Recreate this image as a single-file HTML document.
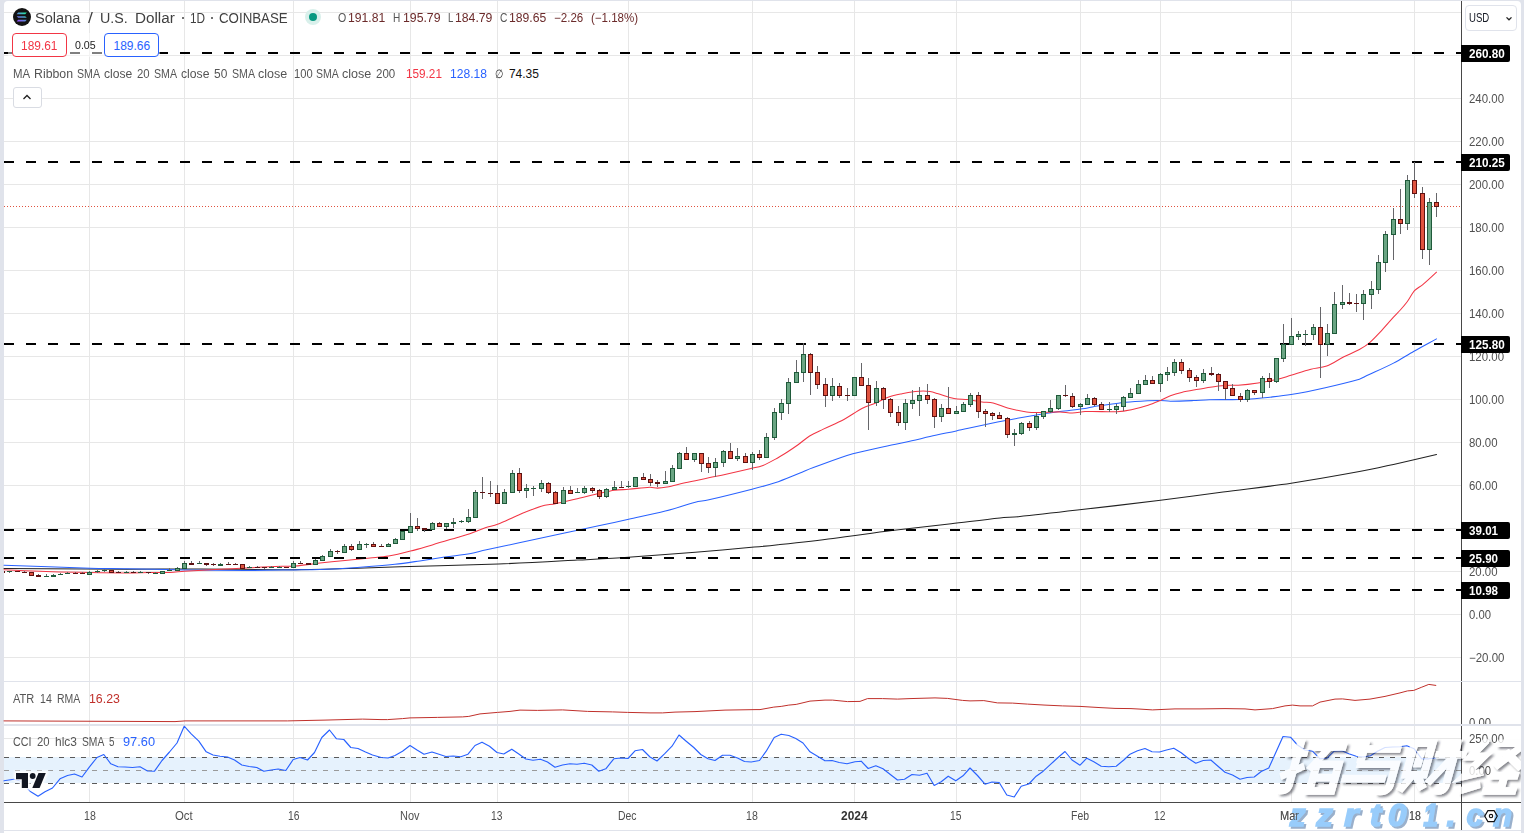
<!DOCTYPE html>
<html><head><meta charset="utf-8"><title>SOLUSD</title>
<style>
html,body{margin:0;padding:0;}
body{width:1524px;height:833px;overflow:hidden;background:#e0e3eb;font-family:"Liberation Sans",sans-serif;position:relative;}
#panel{position:absolute;left:4px;top:1px;width:1517px;height:829px;background:#fff;border-radius:4px 4px 0 0;}
#below{position:absolute;left:4px;top:831px;width:1517px;height:2px;background:#fff;}
svg{position:absolute;left:0;top:0;}
.t{position:absolute;white-space:nowrap;line-height:1;}
.ax{font-size:12px;color:#4f4f4f;left:1469px;letter-spacing:-0.15px;}
.tx{font-size:12px;color:#4f4f4f;transform:translateX(-50%);top:810px;}
.lab{position:absolute;left:1461px;width:49px;height:17px;background:#000;border-radius:0 2px 2px 0;}
.leg{font-size:12px;color:#505050;}
</style></head><body>
<div id="panel"></div><div id="below"></div>

<svg width="1524" height="833" viewBox="0 0 1524 833">
<g shape-rendering="crispEdges" fill="#e7e7e7">
<rect x="89" y="1" width="1" height="801"/>
<rect x="184" y="1" width="1" height="801"/>
<rect x="293" y="1" width="1" height="801"/>
<rect x="410" y="1" width="1" height="801"/>
<rect x="497" y="1" width="1" height="801"/>
<rect x="628" y="1" width="1" height="801"/>
<rect x="752" y="1" width="1" height="801"/>
<rect x="854" y="1" width="1" height="801"/>
<rect x="956" y="1" width="1" height="801"/>
<rect x="1080" y="1" width="1" height="801"/>
<rect x="1160" y="1" width="1" height="801"/>
<rect x="1291" y="1" width="1" height="801"/>
<rect x="1414" y="1" width="1" height="801"/>
<rect x="4" y="12" width="1457" height="1"/>
<rect x="4" y="55" width="1457" height="1"/>
<rect x="4" y="98" width="1457" height="1"/>
<rect x="4" y="141" width="1457" height="1"/>
<rect x="4" y="184" width="1457" height="1"/>
<rect x="4" y="227" width="1457" height="1"/>
<rect x="4" y="270" width="1457" height="1"/>
<rect x="4" y="313" width="1457" height="1"/>
<rect x="4" y="356" width="1457" height="1"/>
<rect x="4" y="399" width="1457" height="1"/>
<rect x="4" y="442" width="1457" height="1"/>
<rect x="4" y="485" width="1457" height="1"/>
<rect x="4" y="528" width="1457" height="1"/>
<rect x="4" y="571" width="1457" height="1"/>
<rect x="4" y="614" width="1457" height="1"/>
<rect x="4" y="657" width="1457" height="1"/>
<rect x="4" y="738" width="1457" height="1"/>
</g>
<rect x="4" y="757" width="1457" height="26" fill="#e6f2fd"/>
<g shape-rendering="crispEdges" stroke-width="1" stroke-dasharray="5 6" fill="none">
<path d="M4 757.5H1461" stroke="#5a5a5a"/>
<path d="M4 770.5H1461" stroke="#9a9a9a"/>
<path d="M4 783.5H1461" stroke="#5a5a5a"/>
</g>
<g shape-rendering="crispEdges" fill="#e0e3eb"><rect x="4" y="681" width="1517" height="1"/><rect x="4" y="724" width="1517" height="2"/><rect x="4" y="830" width="1517" height="1"/></g>
<path d="M4.0 568.6 C45.0 568.8 86.0 569.1 127.0 569.2 C151.3 569.2 175.7 568.9 200.0 569.0 C231.7 569.1 263.3 569.8 295.0 569.7 C315.8 569.6 336.6 568.9 357.4 568.3 C371.6 567.9 385.8 567.2 400.0 566.8 C432.8 565.8 465.6 565.2 498.4 564.0 C524.7 563.0 550.9 561.5 577.2 560.1 C594.2 559.2 611.3 558.4 628.3 557.3 C650.6 555.8 673.0 554.0 695.3 552.2 C715.0 550.6 734.6 548.9 754.3 547.1 C762.2 546.4 770.1 545.6 778.0 544.7 C796.3 542.7 814.7 540.7 833.0 538.4 C852.7 536.0 872.4 533.0 892.1 530.6 C911.8 528.2 931.5 526.0 951.2 523.7 C967.5 521.8 983.7 519.6 1000.0 517.9 C1006.1 517.3 1012.1 517.3 1018.2 516.7 C1038.7 514.6 1059.1 512.2 1079.6 509.8 C1106.6 506.7 1133.5 503.6 1160.5 500.3 C1181.3 497.7 1202.2 494.8 1223.0 492.1 C1245.7 489.1 1268.5 486.6 1291.2 483.2 C1313.9 479.8 1336.7 475.8 1359.4 471.6 C1370.8 469.5 1382.1 466.9 1393.5 464.4 C1407.8 461.2 1422.2 457.9 1436.5 454.6" fill="none" stroke="#222" stroke-width="1.05" stroke-linejoin="round" stroke-linecap="round"/>
<path d="M4.0 565.2 C32.7 566.2 61.3 567.4 90.0 568.2 C102.3 568.6 114.7 568.5 127.0 568.8 C146.2 569.1 165.3 569.6 184.5 569.9 C204.6 570.2 224.6 570.4 244.7 570.4 C261.5 570.4 278.2 570.1 295.0 569.9 C303.3 569.8 311.7 569.8 320.0 569.5 C332.5 569.0 344.9 568.3 357.4 567.4 C369.9 566.5 382.4 565.6 394.9 564.3 C403.2 563.4 411.5 562.1 419.8 560.9 C428.1 559.7 436.5 558.3 444.8 557.1 C453.5 555.8 462.2 554.9 470.9 553.4 C475.7 552.6 480.5 551.1 485.3 550.1 C496.2 547.7 507.2 545.5 518.1 543.1 C532.0 540.1 546.0 537.0 559.9 534.0 C567.0 532.5 574.0 531.0 581.1 529.5 C587.3 528.2 593.6 526.8 599.8 525.5 C609.4 523.4 619.0 521.4 628.6 519.3 C640.8 516.6 653.1 514.2 665.3 511.1 C675.3 508.5 685.3 504.8 695.3 502.2 C699.5 501.1 703.6 501.0 707.8 500.0 C722.2 496.7 736.6 493.1 751.0 489.4 C759.0 487.4 767.0 485.5 775.0 482.8 C783.3 480.0 791.7 476.3 800.0 473.0 C804.5 471.2 808.9 469.2 813.4 467.6 C826.5 462.8 839.7 457.6 852.8 453.8 C865.7 450.1 878.6 447.8 891.5 445.0 C898.3 443.5 905.0 442.3 911.8 440.8 C917.9 439.5 923.9 437.8 930.0 436.5 C938.8 434.5 947.5 432.8 956.3 430.9 C972.3 427.5 988.3 424.0 1004.3 420.8 C1015.5 418.6 1026.6 416.5 1037.8 414.7 C1045.2 413.5 1052.6 412.6 1060.0 411.6 C1068.3 410.5 1076.7 409.7 1085.0 408.5 C1087.4 408.1 1089.9 407.3 1092.3 406.9 C1099.7 405.7 1107.2 404.8 1114.6 403.8 C1118.3 403.3 1122.1 402.6 1125.8 402.3 C1133.2 401.6 1140.7 401.2 1148.1 400.8 C1152.2 400.6 1156.3 400.4 1160.4 400.5 C1163.7 400.6 1167.1 401.2 1170.4 401.2 C1177.9 401.2 1185.3 400.9 1192.8 400.6 C1198.4 400.4 1203.9 399.8 1209.5 399.7 C1219.7 399.5 1229.8 399.7 1240.0 399.6 C1242.5 399.6 1245.0 399.5 1247.5 399.3 C1253.2 398.9 1258.9 398.3 1264.6 397.7 C1273.4 396.7 1282.2 396.0 1291.0 394.6 C1302.4 392.7 1313.9 390.3 1325.3 387.7 C1336.7 385.1 1348.0 382.4 1359.4 379.2 C1361.3 378.7 1363.1 377.4 1365.0 376.5 C1374.5 372.0 1384.0 368.0 1393.5 363.1 C1400.3 359.6 1407.2 355.0 1414.0 351.2 C1421.5 347.0 1429.0 343.0 1436.5 338.9" fill="none" stroke="#2962ff" stroke-width="1.05" stroke-linejoin="round" stroke-linecap="round"/>
<path d="M4.0 569.8 C18.0 570.4 32.0 571.1 46.0 571.5 C60.7 572.0 75.3 572.2 90.0 572.5 C102.3 572.7 114.7 572.9 127.0 572.9 C134.7 572.9 142.3 572.6 150.0 572.5 C156.7 572.4 163.3 572.7 170.0 572.4 C174.8 572.2 179.7 571.5 184.5 571.2 C196.3 570.5 208.0 569.9 219.8 569.3 C228.1 568.9 236.4 568.4 244.7 568.0 C257.1 567.4 269.6 566.7 282.0 566.2 C286.3 566.0 290.7 566.5 295.0 566.1 C303.3 565.4 311.7 563.9 320.0 563.0 C328.3 562.1 336.7 561.3 345.0 560.5 C353.3 559.7 361.7 558.8 370.0 558.0 C376.2 557.4 382.4 557.2 388.6 556.1 C395.9 554.9 403.2 553.0 410.5 551.1 C417.8 549.2 425.0 547.0 432.3 544.9 C440.6 542.5 449.0 539.9 457.3 537.4 C461.5 536.2 465.6 535.1 469.8 533.7 C475.0 531.9 480.1 529.5 485.3 527.7 C489.4 526.3 493.4 525.9 497.5 524.3 C504.6 521.6 511.6 517.8 518.7 514.9 C526.2 511.8 533.7 508.5 541.2 506.2 C546.0 504.7 550.7 504.7 555.5 503.7 C562.0 502.4 568.4 500.8 574.9 499.3 C583.2 497.4 591.5 495.2 599.8 493.3 C604.7 492.2 609.6 491.0 614.5 490.3 C619.2 489.6 623.9 489.7 628.6 489.3 C635.7 488.7 642.7 487.5 649.8 487.2 C652.4 487.1 654.9 488.1 657.5 488.1 C660.7 488.1 663.8 487.6 667.0 487.0 C673.0 485.8 679.0 484.1 685.0 482.8 C695.0 480.6 705.0 478.8 715.0 476.6 C727.0 474.0 739.0 471.2 751.0 468.4 C755.0 467.5 759.0 466.9 763.0 465.4 C767.0 463.9 771.0 461.6 775.0 459.4 C779.0 457.2 783.0 454.7 787.0 452.2 C790.6 449.9 794.1 447.6 797.7 445.0 C801.7 442.2 805.6 438.5 809.6 436.0 C814.0 433.3 818.4 431.5 822.8 429.4 C829.8 426.0 836.9 423.2 843.9 419.5 C850.1 416.2 856.2 411.5 862.4 408.3 C866.8 406.0 871.2 404.9 875.6 403.0 C880.0 401.1 884.4 398.6 888.8 397.0 C893.2 395.4 897.6 394.6 902.0 393.7 C906.4 392.8 910.8 392.1 915.2 391.5 C917.8 391.2 920.5 391.0 923.1 391.0 C925.4 391.0 927.7 391.2 930.0 391.6 C932.4 392.0 934.9 392.8 937.3 393.5 C942.9 395.1 948.4 397.4 954.0 398.5 C958.5 399.4 963.0 399.1 967.5 399.6 C972.3 400.2 977.2 401.3 982.0 401.9 C985.7 402.4 989.4 402.1 993.1 403.0 C997.9 404.2 1002.8 406.7 1007.6 408.0 C1013.9 409.7 1020.3 411.0 1026.6 411.9 C1030.3 412.5 1034.1 412.5 1037.8 412.5 C1045.2 412.5 1052.6 411.8 1060.0 411.9 C1064.1 412.0 1068.3 413.0 1072.4 413.0 C1076.6 412.9 1080.8 411.9 1085.0 411.6 C1087.4 411.4 1089.9 411.4 1092.3 411.4 C1100.5 411.4 1108.7 412.1 1116.9 411.7 C1121.7 411.5 1126.6 410.7 1131.4 409.7 C1137.0 408.6 1142.5 407.1 1148.1 405.3 C1152.2 404.0 1156.3 402.2 1160.4 400.5 C1163.7 399.1 1167.1 397.1 1170.4 395.8 C1174.1 394.4 1177.9 393.3 1181.6 392.4 C1187.2 391.1 1192.7 390.3 1198.3 389.3 C1205.0 388.2 1211.7 387.0 1218.4 386.1 C1221.0 385.7 1223.7 385.5 1226.3 385.4 C1230.3 385.2 1234.2 385.5 1238.2 385.2 C1244.8 384.7 1251.4 383.9 1258.0 382.9 C1264.6 381.9 1271.2 380.7 1277.8 379.2 C1282.2 378.2 1286.6 376.6 1291.0 375.3 C1297.6 373.3 1304.3 371.0 1310.9 369.3 C1316.2 367.9 1321.4 368.0 1326.7 366.0 C1332.4 363.8 1338.2 359.7 1343.9 356.8 C1349.1 354.2 1354.2 352.3 1359.4 349.5 C1362.8 347.6 1366.3 345.5 1369.7 342.6 C1373.1 339.8 1376.5 336.0 1379.9 332.4 C1384.4 327.5 1389.0 322.1 1393.5 317.1 C1395.8 314.6 1398.0 312.5 1400.3 310.0 C1402.6 307.4 1404.9 304.8 1407.2 301.7 C1409.6 298.4 1412.1 293.4 1414.5 290.7 C1417.2 287.8 1419.8 287.0 1422.5 284.8 C1427.2 280.9 1431.8 276.4 1436.5 272.2" fill="none" stroke="#f23645" stroke-width="1.05" stroke-linejoin="round" stroke-linecap="round"/>
<g stroke="#000" stroke-width="2" stroke-dasharray="10 12" fill="none" shape-rendering="crispEdges">
<path d="M4 53H1461"/>
<path d="M4 162H1461"/>
<path d="M4 344H1461"/>
<path d="M4 530H1461"/>
<path d="M4 558H1461"/>
<path d="M4 590H1461"/>
</g>
<path d="M4 206.5H1461" stroke="#e0533f" stroke-width="1" stroke-dasharray="1 2" shape-rendering="crispEdges"/>
<g shape-rendering="crispEdges">
<rect x="4" y="571" width="1" height="2" fill="#5e1111"/>
<rect x="9" y="571" width="1" height="2" fill="#66666a"/>
<rect x="7" y="571" width="5" height="1" fill="#1f5a3a"/>
<rect x="17" y="571" width="1" height="1" fill="#66666a"/>
<rect x="15" y="571" width="5" height="1" fill="#5e1111"/>
<rect x="24" y="571" width="1" height="2" fill="#66666a"/>
<rect x="22" y="572" width="5" height="1" fill="#5e1111"/>
<rect x="31" y="572" width="1" height="4" fill="#66666a"/>
<rect x="29" y="572" width="5" height="4" fill="#5e1111"/>
<rect x="30" y="573" width="3" height="2" fill="#e0533f"/>
<rect x="38" y="574" width="1" height="3" fill="#66666a"/>
<rect x="36" y="575" width="5" height="2" fill="#5e1111"/>
<rect x="46" y="574" width="1" height="3" fill="#66666a"/>
<rect x="44" y="576" width="5" height="1" fill="#1f5a3a"/>
<rect x="53" y="574" width="1" height="3" fill="#66666a"/>
<rect x="51" y="575" width="5" height="2" fill="#1f5a3a"/>
<rect x="60" y="573" width="1" height="2" fill="#66666a"/>
<rect x="58" y="574" width="5" height="1" fill="#1f5a3a"/>
<rect x="67" y="572" width="1" height="2" fill="#66666a"/>
<rect x="65" y="573" width="5" height="1" fill="#1f5a3a"/>
<rect x="75" y="572" width="1" height="2" fill="#66666a"/>
<rect x="73" y="573" width="5" height="1" fill="#5e1111"/>
<rect x="82" y="572" width="1" height="2" fill="#66666a"/>
<rect x="80" y="573" width="5" height="1" fill="#5e1111"/>
<rect x="89" y="571" width="1" height="4" fill="#66666a"/>
<rect x="87" y="572" width="5" height="3" fill="#1f5a3a"/>
<rect x="88" y="573" width="3" height="1" fill="#6aa583"/>
<rect x="97" y="570" width="1" height="3" fill="#66666a"/>
<rect x="95" y="571" width="5" height="1" fill="#1f5a3a"/>
<rect x="104" y="569" width="1" height="3" fill="#66666a"/>
<rect x="102" y="570" width="5" height="1" fill="#1f5a3a"/>
<rect x="111" y="570" width="1" height="3" fill="#66666a"/>
<rect x="109" y="570" width="5" height="3" fill="#5e1111"/>
<rect x="110" y="571" width="3" height="1" fill="#e0533f"/>
<rect x="118" y="571" width="1" height="2" fill="#66666a"/>
<rect x="116" y="572" width="5" height="1" fill="#5e1111"/>
<rect x="126" y="571" width="1" height="2" fill="#66666a"/>
<rect x="124" y="572" width="5" height="1" fill="#1f5a3a"/>
<rect x="133" y="571" width="1" height="2" fill="#66666a"/>
<rect x="131" y="572" width="5" height="1" fill="#5e1111"/>
<rect x="140" y="571" width="1" height="2" fill="#66666a"/>
<rect x="138" y="572" width="5" height="1" fill="#1f5a3a"/>
<rect x="148" y="572" width="1" height="2" fill="#66666a"/>
<rect x="146" y="572" width="5" height="1" fill="#5e1111"/>
<rect x="155" y="572" width="1" height="2" fill="#66666a"/>
<rect x="153" y="573" width="5" height="1" fill="#1f5a3a"/>
<rect x="162" y="571" width="1" height="3" fill="#66666a"/>
<rect x="160" y="571" width="5" height="3" fill="#1f5a3a"/>
<rect x="161" y="572" width="3" height="1" fill="#6aa583"/>
<rect x="169" y="568" width="1" height="3" fill="#66666a"/>
<rect x="167" y="570" width="5" height="1" fill="#1f5a3a"/>
<rect x="177" y="567" width="1" height="4" fill="#66666a"/>
<rect x="175" y="568" width="5" height="3" fill="#1f5a3a"/>
<rect x="176" y="569" width="3" height="1" fill="#6aa583"/>
<rect x="184" y="561" width="1" height="8" fill="#66666a"/>
<rect x="182" y="563" width="5" height="6" fill="#1f5a3a"/>
<rect x="183" y="564" width="3" height="4" fill="#6aa583"/>
<rect x="191" y="561" width="1" height="4" fill="#66666a"/>
<rect x="189" y="563" width="5" height="2" fill="#5e1111"/>
<rect x="199" y="561" width="1" height="3" fill="#66666a"/>
<rect x="197" y="563" width="5" height="1" fill="#1f5a3a"/>
<rect x="206" y="563" width="1" height="3" fill="#66666a"/>
<rect x="204" y="563" width="5" height="2" fill="#5e1111"/>
<rect x="213" y="563" width="1" height="3" fill="#66666a"/>
<rect x="211" y="564" width="5" height="1" fill="#5e1111"/>
<rect x="220" y="563" width="1" height="3" fill="#66666a"/>
<rect x="218" y="564" width="5" height="2" fill="#1f5a3a"/>
<rect x="228" y="562" width="1" height="3" fill="#66666a"/>
<rect x="226" y="564" width="5" height="1" fill="#5e1111"/>
<rect x="235" y="563" width="1" height="2" fill="#66666a"/>
<rect x="233" y="564" width="5" height="1" fill="#5e1111"/>
<rect x="242" y="564" width="1" height="5" fill="#66666a"/>
<rect x="240" y="564" width="5" height="5" fill="#5e1111"/>
<rect x="241" y="565" width="3" height="3" fill="#e0533f"/>
<rect x="249" y="566" width="1" height="2" fill="#66666a"/>
<rect x="247" y="567" width="5" height="1" fill="#1f5a3a"/>
<rect x="257" y="566" width="1" height="2" fill="#66666a"/>
<rect x="255" y="567" width="5" height="1" fill="#5e1111"/>
<rect x="264" y="567" width="1" height="2" fill="#66666a"/>
<rect x="262" y="567" width="5" height="1" fill="#5e1111"/>
<rect x="271" y="566" width="1" height="2" fill="#66666a"/>
<rect x="269" y="567" width="5" height="1" fill="#1f5a3a"/>
<rect x="279" y="566" width="1" height="2" fill="#66666a"/>
<rect x="277" y="567" width="5" height="1" fill="#1f5a3a"/>
<rect x="286" y="567" width="1" height="1" fill="#66666a"/>
<rect x="284" y="567" width="5" height="1" fill="#5e1111"/>
<rect x="293" y="561" width="1" height="7" fill="#66666a"/>
<rect x="291" y="563" width="5" height="5" fill="#1f5a3a"/>
<rect x="292" y="564" width="3" height="3" fill="#6aa583"/>
<rect x="300" y="561" width="1" height="3" fill="#66666a"/>
<rect x="298" y="563" width="5" height="1" fill="#5e1111"/>
<rect x="308" y="563" width="1" height="2" fill="#66666a"/>
<rect x="306" y="563" width="5" height="2" fill="#5e1111"/>
<rect x="315" y="559" width="1" height="6" fill="#66666a"/>
<rect x="313" y="560" width="5" height="5" fill="#1f5a3a"/>
<rect x="314" y="561" width="3" height="3" fill="#6aa583"/>
<rect x="322" y="555" width="1" height="6" fill="#66666a"/>
<rect x="320" y="556" width="5" height="5" fill="#1f5a3a"/>
<rect x="321" y="557" width="3" height="3" fill="#6aa583"/>
<rect x="330" y="549" width="1" height="8" fill="#66666a"/>
<rect x="328" y="551" width="5" height="6" fill="#1f5a3a"/>
<rect x="329" y="552" width="3" height="4" fill="#6aa583"/>
<rect x="337" y="550" width="1" height="4" fill="#66666a"/>
<rect x="335" y="551" width="5" height="1" fill="#5e1111"/>
<rect x="344" y="544" width="1" height="9" fill="#66666a"/>
<rect x="342" y="546" width="5" height="7" fill="#1f5a3a"/>
<rect x="343" y="547" width="3" height="5" fill="#6aa583"/>
<rect x="351" y="544" width="1" height="7" fill="#66666a"/>
<rect x="349" y="546" width="5" height="4" fill="#5e1111"/>
<rect x="350" y="547" width="3" height="2" fill="#e0533f"/>
<rect x="359" y="541" width="1" height="9" fill="#66666a"/>
<rect x="357" y="544" width="5" height="6" fill="#1f5a3a"/>
<rect x="358" y="545" width="3" height="4" fill="#6aa583"/>
<rect x="366" y="543" width="1" height="5" fill="#66666a"/>
<rect x="364" y="544" width="5" height="1" fill="#1f5a3a"/>
<rect x="373" y="542" width="1" height="5" fill="#66666a"/>
<rect x="371" y="544" width="5" height="3" fill="#5e1111"/>
<rect x="372" y="545" width="3" height="1" fill="#e0533f"/>
<rect x="381" y="544" width="1" height="3" fill="#66666a"/>
<rect x="379" y="546" width="5" height="1" fill="#5e1111"/>
<rect x="388" y="543" width="1" height="4" fill="#66666a"/>
<rect x="386" y="544" width="5" height="3" fill="#1f5a3a"/>
<rect x="387" y="545" width="3" height="1" fill="#6aa583"/>
<rect x="395" y="538" width="1" height="6" fill="#66666a"/>
<rect x="393" y="539" width="5" height="5" fill="#1f5a3a"/>
<rect x="394" y="540" width="3" height="3" fill="#6aa583"/>
<rect x="402" y="531" width="1" height="9" fill="#66666a"/>
<rect x="400" y="531" width="5" height="9" fill="#1f5a3a"/>
<rect x="401" y="532" width="3" height="7" fill="#6aa583"/>
<rect x="410" y="513" width="1" height="20" fill="#66666a"/>
<rect x="408" y="526" width="5" height="7" fill="#1f5a3a"/>
<rect x="409" y="527" width="3" height="5" fill="#6aa583"/>
<rect x="417" y="518" width="1" height="13" fill="#66666a"/>
<rect x="415" y="526" width="5" height="3" fill="#5e1111"/>
<rect x="416" y="527" width="3" height="1" fill="#e0533f"/>
<rect x="424" y="528" width="1" height="4" fill="#66666a"/>
<rect x="422" y="528" width="5" height="2" fill="#5e1111"/>
<rect x="432" y="522" width="1" height="8" fill="#66666a"/>
<rect x="430" y="523" width="5" height="7" fill="#1f5a3a"/>
<rect x="431" y="524" width="3" height="5" fill="#6aa583"/>
<rect x="439" y="522" width="1" height="5" fill="#66666a"/>
<rect x="437" y="523" width="5" height="4" fill="#5e1111"/>
<rect x="438" y="524" width="3" height="2" fill="#e0533f"/>
<rect x="446" y="523" width="1" height="6" fill="#66666a"/>
<rect x="444" y="523" width="5" height="4" fill="#1f5a3a"/>
<rect x="445" y="524" width="3" height="2" fill="#6aa583"/>
<rect x="453" y="518" width="1" height="10" fill="#66666a"/>
<rect x="451" y="522" width="5" height="2" fill="#1f5a3a"/>
<rect x="461" y="520" width="1" height="3" fill="#66666a"/>
<rect x="459" y="521" width="5" height="1" fill="#1f5a3a"/>
<rect x="468" y="509" width="1" height="14" fill="#66666a"/>
<rect x="466" y="517" width="5" height="5" fill="#1f5a3a"/>
<rect x="467" y="518" width="3" height="3" fill="#6aa583"/>
<rect x="475" y="490" width="1" height="28" fill="#66666a"/>
<rect x="473" y="492" width="5" height="26" fill="#1f5a3a"/>
<rect x="474" y="493" width="3" height="24" fill="#6aa583"/>
<rect x="482" y="477" width="1" height="22" fill="#66666a"/>
<rect x="480" y="492" width="5" height="1" fill="#5e1111"/>
<rect x="490" y="481" width="1" height="16" fill="#66666a"/>
<rect x="488" y="493" width="5" height="1" fill="#5e1111"/>
<rect x="497" y="485" width="1" height="19" fill="#66666a"/>
<rect x="495" y="493" width="5" height="11" fill="#5e1111"/>
<rect x="496" y="494" width="3" height="9" fill="#e0533f"/>
<rect x="504" y="489" width="1" height="15" fill="#66666a"/>
<rect x="502" y="492" width="5" height="12" fill="#1f5a3a"/>
<rect x="503" y="493" width="3" height="10" fill="#6aa583"/>
<rect x="512" y="470" width="1" height="23" fill="#66666a"/>
<rect x="510" y="473" width="5" height="20" fill="#1f5a3a"/>
<rect x="511" y="474" width="3" height="18" fill="#6aa583"/>
<rect x="519" y="468" width="1" height="25" fill="#66666a"/>
<rect x="517" y="473" width="5" height="18" fill="#5e1111"/>
<rect x="518" y="474" width="3" height="16" fill="#e0533f"/>
<rect x="526" y="484" width="1" height="14" fill="#66666a"/>
<rect x="524" y="488" width="5" height="3" fill="#1f5a3a"/>
<rect x="525" y="489" width="3" height="1" fill="#6aa583"/>
<rect x="533" y="486" width="1" height="10" fill="#66666a"/>
<rect x="531" y="488" width="5" height="1" fill="#1f5a3a"/>
<rect x="541" y="480" width="1" height="12" fill="#66666a"/>
<rect x="539" y="483" width="5" height="6" fill="#1f5a3a"/>
<rect x="540" y="484" width="3" height="4" fill="#6aa583"/>
<rect x="548" y="482" width="1" height="12" fill="#66666a"/>
<rect x="546" y="483" width="5" height="10" fill="#5e1111"/>
<rect x="547" y="484" width="3" height="8" fill="#e0533f"/>
<rect x="555" y="491" width="1" height="13" fill="#66666a"/>
<rect x="553" y="492" width="5" height="12" fill="#5e1111"/>
<rect x="554" y="493" width="3" height="10" fill="#e0533f"/>
<rect x="563" y="487" width="1" height="17" fill="#66666a"/>
<rect x="561" y="490" width="5" height="14" fill="#1f5a3a"/>
<rect x="562" y="491" width="3" height="12" fill="#6aa583"/>
<rect x="570" y="486" width="1" height="8" fill="#66666a"/>
<rect x="568" y="490" width="5" height="4" fill="#5e1111"/>
<rect x="569" y="491" width="3" height="2" fill="#e0533f"/>
<rect x="577" y="488" width="1" height="5" fill="#66666a"/>
<rect x="575" y="492" width="5" height="1" fill="#1f5a3a"/>
<rect x="584" y="486" width="1" height="8" fill="#66666a"/>
<rect x="582" y="488" width="5" height="5" fill="#1f5a3a"/>
<rect x="583" y="489" width="3" height="3" fill="#6aa583"/>
<rect x="592" y="487" width="1" height="6" fill="#66666a"/>
<rect x="590" y="488" width="5" height="3" fill="#5e1111"/>
<rect x="591" y="489" width="3" height="1" fill="#e0533f"/>
<rect x="599" y="489" width="1" height="10" fill="#66666a"/>
<rect x="597" y="490" width="5" height="7" fill="#5e1111"/>
<rect x="598" y="491" width="3" height="5" fill="#e0533f"/>
<rect x="606" y="488" width="1" height="10" fill="#66666a"/>
<rect x="604" y="489" width="5" height="8" fill="#1f5a3a"/>
<rect x="605" y="490" width="3" height="6" fill="#6aa583"/>
<rect x="614" y="481" width="1" height="9" fill="#66666a"/>
<rect x="612" y="487" width="5" height="3" fill="#1f5a3a"/>
<rect x="613" y="488" width="3" height="1" fill="#6aa583"/>
<rect x="621" y="481" width="1" height="7" fill="#66666a"/>
<rect x="619" y="487" width="5" height="1" fill="#5e1111"/>
<rect x="628" y="481" width="1" height="7" fill="#66666a"/>
<rect x="626" y="486" width="5" height="1" fill="#1f5a3a"/>
<rect x="635" y="477" width="1" height="10" fill="#66666a"/>
<rect x="633" y="477" width="5" height="10" fill="#1f5a3a"/>
<rect x="634" y="478" width="3" height="8" fill="#6aa583"/>
<rect x="643" y="473" width="1" height="7" fill="#66666a"/>
<rect x="641" y="477" width="5" height="3" fill="#5e1111"/>
<rect x="642" y="478" width="3" height="1" fill="#e0533f"/>
<rect x="650" y="474" width="1" height="12" fill="#66666a"/>
<rect x="648" y="479" width="5" height="4" fill="#5e1111"/>
<rect x="649" y="480" width="3" height="2" fill="#e0533f"/>
<rect x="657" y="480" width="1" height="7" fill="#66666a"/>
<rect x="655" y="482" width="5" height="2" fill="#5e1111"/>
<rect x="665" y="471" width="1" height="13" fill="#66666a"/>
<rect x="663" y="481" width="5" height="3" fill="#1f5a3a"/>
<rect x="664" y="482" width="3" height="1" fill="#6aa583"/>
<rect x="672" y="465" width="1" height="17" fill="#66666a"/>
<rect x="670" y="468" width="5" height="14" fill="#1f5a3a"/>
<rect x="671" y="469" width="3" height="12" fill="#6aa583"/>
<rect x="679" y="452" width="1" height="17" fill="#66666a"/>
<rect x="677" y="453" width="5" height="16" fill="#1f5a3a"/>
<rect x="678" y="454" width="3" height="14" fill="#6aa583"/>
<rect x="686" y="447" width="1" height="13" fill="#66666a"/>
<rect x="684" y="453" width="5" height="7" fill="#5e1111"/>
<rect x="685" y="454" width="3" height="5" fill="#e0533f"/>
<rect x="694" y="453" width="1" height="9" fill="#66666a"/>
<rect x="692" y="453" width="5" height="7" fill="#1f5a3a"/>
<rect x="693" y="454" width="3" height="5" fill="#6aa583"/>
<rect x="701" y="453" width="1" height="19" fill="#66666a"/>
<rect x="699" y="453" width="5" height="11" fill="#5e1111"/>
<rect x="700" y="454" width="3" height="9" fill="#e0533f"/>
<rect x="708" y="457" width="1" height="16" fill="#66666a"/>
<rect x="706" y="463" width="5" height="5" fill="#5e1111"/>
<rect x="707" y="464" width="3" height="3" fill="#e0533f"/>
<rect x="715" y="458" width="1" height="19" fill="#66666a"/>
<rect x="713" y="462" width="5" height="6" fill="#1f5a3a"/>
<rect x="714" y="463" width="3" height="4" fill="#6aa583"/>
<rect x="723" y="450" width="1" height="17" fill="#66666a"/>
<rect x="721" y="451" width="5" height="12" fill="#1f5a3a"/>
<rect x="722" y="452" width="3" height="10" fill="#6aa583"/>
<rect x="730" y="443" width="1" height="16" fill="#66666a"/>
<rect x="728" y="451" width="5" height="8" fill="#5e1111"/>
<rect x="729" y="452" width="3" height="6" fill="#e0533f"/>
<rect x="737" y="448" width="1" height="13" fill="#66666a"/>
<rect x="735" y="456" width="5" height="3" fill="#1f5a3a"/>
<rect x="736" y="457" width="3" height="1" fill="#6aa583"/>
<rect x="745" y="453" width="1" height="10" fill="#66666a"/>
<rect x="743" y="456" width="5" height="7" fill="#5e1111"/>
<rect x="744" y="457" width="3" height="5" fill="#e0533f"/>
<rect x="752" y="452" width="1" height="18" fill="#66666a"/>
<rect x="750" y="454" width="5" height="9" fill="#1f5a3a"/>
<rect x="751" y="455" width="3" height="7" fill="#6aa583"/>
<rect x="759" y="450" width="1" height="10" fill="#66666a"/>
<rect x="757" y="454" width="5" height="4" fill="#5e1111"/>
<rect x="758" y="455" width="3" height="2" fill="#e0533f"/>
<rect x="766" y="433" width="1" height="25" fill="#66666a"/>
<rect x="764" y="437" width="5" height="21" fill="#1f5a3a"/>
<rect x="765" y="438" width="3" height="19" fill="#6aa583"/>
<rect x="774" y="408" width="1" height="32" fill="#66666a"/>
<rect x="772" y="412" width="5" height="26" fill="#1f5a3a"/>
<rect x="773" y="413" width="3" height="24" fill="#6aa583"/>
<rect x="781" y="399" width="1" height="21" fill="#66666a"/>
<rect x="779" y="403" width="5" height="10" fill="#1f5a3a"/>
<rect x="780" y="404" width="3" height="8" fill="#6aa583"/>
<rect x="788" y="378" width="1" height="36" fill="#66666a"/>
<rect x="786" y="382" width="5" height="22" fill="#1f5a3a"/>
<rect x="787" y="383" width="3" height="20" fill="#6aa583"/>
<rect x="796" y="360" width="1" height="23" fill="#66666a"/>
<rect x="794" y="372" width="5" height="11" fill="#1f5a3a"/>
<rect x="795" y="373" width="3" height="9" fill="#6aa583"/>
<rect x="803" y="343" width="1" height="39" fill="#66666a"/>
<rect x="801" y="354" width="5" height="19" fill="#1f5a3a"/>
<rect x="802" y="355" width="3" height="17" fill="#6aa583"/>
<rect x="810" y="353" width="1" height="42" fill="#66666a"/>
<rect x="808" y="354" width="5" height="19" fill="#5e1111"/>
<rect x="809" y="355" width="3" height="17" fill="#e0533f"/>
<rect x="817" y="366" width="1" height="23" fill="#66666a"/>
<rect x="815" y="372" width="5" height="13" fill="#5e1111"/>
<rect x="816" y="373" width="3" height="11" fill="#e0533f"/>
<rect x="825" y="378" width="1" height="29" fill="#66666a"/>
<rect x="823" y="384" width="5" height="12" fill="#5e1111"/>
<rect x="824" y="385" width="3" height="10" fill="#e0533f"/>
<rect x="832" y="378" width="1" height="23" fill="#66666a"/>
<rect x="830" y="386" width="5" height="10" fill="#1f5a3a"/>
<rect x="831" y="387" width="3" height="8" fill="#6aa583"/>
<rect x="839" y="383" width="1" height="15" fill="#66666a"/>
<rect x="837" y="386" width="5" height="10" fill="#5e1111"/>
<rect x="838" y="387" width="3" height="8" fill="#e0533f"/>
<rect x="847" y="388" width="1" height="13" fill="#66666a"/>
<rect x="845" y="395" width="5" height="1" fill="#5e1111"/>
<rect x="854" y="377" width="1" height="19" fill="#66666a"/>
<rect x="852" y="377" width="5" height="19" fill="#1f5a3a"/>
<rect x="853" y="378" width="3" height="17" fill="#6aa583"/>
<rect x="861" y="363" width="1" height="23" fill="#66666a"/>
<rect x="859" y="377" width="5" height="9" fill="#5e1111"/>
<rect x="860" y="378" width="3" height="7" fill="#e0533f"/>
<rect x="868" y="378" width="1" height="52" fill="#66666a"/>
<rect x="866" y="385" width="5" height="18" fill="#5e1111"/>
<rect x="867" y="386" width="3" height="16" fill="#e0533f"/>
<rect x="876" y="381" width="1" height="25" fill="#66666a"/>
<rect x="874" y="388" width="5" height="15" fill="#1f5a3a"/>
<rect x="875" y="389" width="3" height="13" fill="#6aa583"/>
<rect x="883" y="387" width="1" height="22" fill="#66666a"/>
<rect x="881" y="388" width="5" height="12" fill="#5e1111"/>
<rect x="882" y="389" width="3" height="10" fill="#e0533f"/>
<rect x="890" y="398" width="1" height="19" fill="#66666a"/>
<rect x="888" y="399" width="5" height="14" fill="#5e1111"/>
<rect x="889" y="400" width="3" height="12" fill="#e0533f"/>
<rect x="898" y="406" width="1" height="20" fill="#66666a"/>
<rect x="896" y="412" width="5" height="11" fill="#5e1111"/>
<rect x="897" y="413" width="3" height="9" fill="#e0533f"/>
<rect x="905" y="399" width="1" height="31" fill="#66666a"/>
<rect x="903" y="403" width="5" height="20" fill="#1f5a3a"/>
<rect x="904" y="404" width="3" height="18" fill="#6aa583"/>
<rect x="912" y="390" width="1" height="19" fill="#66666a"/>
<rect x="910" y="400" width="5" height="4" fill="#1f5a3a"/>
<rect x="911" y="401" width="3" height="2" fill="#6aa583"/>
<rect x="919" y="387" width="1" height="29" fill="#66666a"/>
<rect x="917" y="395" width="5" height="6" fill="#1f5a3a"/>
<rect x="918" y="396" width="3" height="4" fill="#6aa583"/>
<rect x="927" y="384" width="1" height="20" fill="#66666a"/>
<rect x="925" y="395" width="5" height="5" fill="#5e1111"/>
<rect x="926" y="396" width="3" height="3" fill="#e0533f"/>
<rect x="934" y="398" width="1" height="30" fill="#66666a"/>
<rect x="932" y="399" width="5" height="18" fill="#5e1111"/>
<rect x="933" y="400" width="3" height="16" fill="#e0533f"/>
<rect x="941" y="404" width="1" height="18" fill="#66666a"/>
<rect x="939" y="408" width="5" height="9" fill="#1f5a3a"/>
<rect x="940" y="409" width="3" height="7" fill="#6aa583"/>
<rect x="948" y="387" width="1" height="27" fill="#66666a"/>
<rect x="946" y="408" width="5" height="6" fill="#5e1111"/>
<rect x="947" y="409" width="3" height="4" fill="#e0533f"/>
<rect x="956" y="406" width="1" height="8" fill="#66666a"/>
<rect x="954" y="411" width="5" height="3" fill="#1f5a3a"/>
<rect x="955" y="412" width="3" height="1" fill="#6aa583"/>
<rect x="963" y="402" width="1" height="10" fill="#66666a"/>
<rect x="961" y="404" width="5" height="8" fill="#1f5a3a"/>
<rect x="962" y="405" width="3" height="6" fill="#6aa583"/>
<rect x="970" y="393" width="1" height="14" fill="#66666a"/>
<rect x="968" y="395" width="5" height="10" fill="#1f5a3a"/>
<rect x="969" y="396" width="3" height="8" fill="#6aa583"/>
<rect x="978" y="392" width="1" height="26" fill="#66666a"/>
<rect x="976" y="395" width="5" height="17" fill="#5e1111"/>
<rect x="977" y="396" width="3" height="15" fill="#e0533f"/>
<rect x="985" y="409" width="1" height="18" fill="#66666a"/>
<rect x="983" y="411" width="5" height="3" fill="#5e1111"/>
<rect x="984" y="412" width="3" height="1" fill="#e0533f"/>
<rect x="992" y="412" width="1" height="8" fill="#66666a"/>
<rect x="990" y="413" width="5" height="3" fill="#5e1111"/>
<rect x="991" y="414" width="3" height="1" fill="#e0533f"/>
<rect x="999" y="412" width="1" height="7" fill="#66666a"/>
<rect x="997" y="415" width="5" height="4" fill="#5e1111"/>
<rect x="998" y="416" width="3" height="2" fill="#e0533f"/>
<rect x="1007" y="417" width="1" height="21" fill="#66666a"/>
<rect x="1005" y="418" width="5" height="17" fill="#5e1111"/>
<rect x="1006" y="419" width="3" height="15" fill="#e0533f"/>
<rect x="1014" y="429" width="1" height="17" fill="#66666a"/>
<rect x="1012" y="433" width="5" height="2" fill="#1f5a3a"/>
<rect x="1021" y="422" width="1" height="13" fill="#66666a"/>
<rect x="1019" y="423" width="5" height="11" fill="#1f5a3a"/>
<rect x="1020" y="424" width="3" height="9" fill="#6aa583"/>
<rect x="1029" y="421" width="1" height="10" fill="#66666a"/>
<rect x="1027" y="423" width="5" height="5" fill="#5e1111"/>
<rect x="1028" y="424" width="3" height="3" fill="#e0533f"/>
<rect x="1036" y="413" width="1" height="17" fill="#66666a"/>
<rect x="1034" y="416" width="5" height="12" fill="#1f5a3a"/>
<rect x="1035" y="417" width="3" height="10" fill="#6aa583"/>
<rect x="1043" y="411" width="1" height="8" fill="#66666a"/>
<rect x="1041" y="411" width="5" height="6" fill="#1f5a3a"/>
<rect x="1042" y="412" width="3" height="4" fill="#6aa583"/>
<rect x="1050" y="400" width="1" height="13" fill="#66666a"/>
<rect x="1048" y="408" width="5" height="4" fill="#1f5a3a"/>
<rect x="1049" y="409" width="3" height="2" fill="#6aa583"/>
<rect x="1058" y="395" width="1" height="15" fill="#66666a"/>
<rect x="1056" y="395" width="5" height="14" fill="#1f5a3a"/>
<rect x="1057" y="396" width="3" height="12" fill="#6aa583"/>
<rect x="1065" y="385" width="1" height="12" fill="#66666a"/>
<rect x="1063" y="395" width="5" height="1" fill="#5e1111"/>
<rect x="1072" y="393" width="1" height="15" fill="#66666a"/>
<rect x="1070" y="396" width="5" height="11" fill="#5e1111"/>
<rect x="1071" y="397" width="3" height="9" fill="#e0533f"/>
<rect x="1080" y="403" width="1" height="12" fill="#66666a"/>
<rect x="1078" y="404" width="5" height="3" fill="#1f5a3a"/>
<rect x="1079" y="405" width="3" height="1" fill="#6aa583"/>
<rect x="1087" y="394" width="1" height="11" fill="#66666a"/>
<rect x="1085" y="398" width="5" height="7" fill="#1f5a3a"/>
<rect x="1086" y="399" width="3" height="5" fill="#6aa583"/>
<rect x="1094" y="397" width="1" height="9" fill="#66666a"/>
<rect x="1092" y="398" width="5" height="7" fill="#5e1111"/>
<rect x="1093" y="399" width="3" height="5" fill="#e0533f"/>
<rect x="1101" y="402" width="1" height="8" fill="#66666a"/>
<rect x="1099" y="404" width="5" height="6" fill="#5e1111"/>
<rect x="1100" y="405" width="3" height="4" fill="#e0533f"/>
<rect x="1109" y="402" width="1" height="10" fill="#66666a"/>
<rect x="1107" y="409" width="5" height="1" fill="#1f5a3a"/>
<rect x="1116" y="404" width="1" height="10" fill="#66666a"/>
<rect x="1114" y="406" width="5" height="4" fill="#1f5a3a"/>
<rect x="1115" y="407" width="3" height="2" fill="#6aa583"/>
<rect x="1123" y="396" width="1" height="15" fill="#66666a"/>
<rect x="1121" y="397" width="5" height="10" fill="#1f5a3a"/>
<rect x="1122" y="398" width="3" height="8" fill="#6aa583"/>
<rect x="1130" y="388" width="1" height="10" fill="#66666a"/>
<rect x="1128" y="393" width="5" height="5" fill="#1f5a3a"/>
<rect x="1129" y="394" width="3" height="3" fill="#6aa583"/>
<rect x="1138" y="380" width="1" height="14" fill="#66666a"/>
<rect x="1136" y="384" width="5" height="10" fill="#1f5a3a"/>
<rect x="1137" y="385" width="3" height="8" fill="#6aa583"/>
<rect x="1145" y="375" width="1" height="10" fill="#66666a"/>
<rect x="1143" y="380" width="5" height="5" fill="#1f5a3a"/>
<rect x="1144" y="381" width="3" height="3" fill="#6aa583"/>
<rect x="1152" y="376" width="1" height="8" fill="#66666a"/>
<rect x="1150" y="380" width="5" height="4" fill="#5e1111"/>
<rect x="1151" y="381" width="3" height="2" fill="#e0533f"/>
<rect x="1160" y="373" width="1" height="19" fill="#66666a"/>
<rect x="1158" y="374" width="5" height="10" fill="#1f5a3a"/>
<rect x="1159" y="375" width="3" height="8" fill="#6aa583"/>
<rect x="1167" y="367" width="1" height="14" fill="#66666a"/>
<rect x="1165" y="372" width="5" height="3" fill="#1f5a3a"/>
<rect x="1166" y="373" width="3" height="1" fill="#6aa583"/>
<rect x="1174" y="359" width="1" height="17" fill="#66666a"/>
<rect x="1172" y="362" width="5" height="11" fill="#1f5a3a"/>
<rect x="1173" y="363" width="3" height="9" fill="#6aa583"/>
<rect x="1181" y="359" width="1" height="15" fill="#66666a"/>
<rect x="1179" y="362" width="5" height="9" fill="#5e1111"/>
<rect x="1180" y="363" width="3" height="7" fill="#e0533f"/>
<rect x="1189" y="368" width="1" height="14" fill="#66666a"/>
<rect x="1187" y="370" width="5" height="8" fill="#5e1111"/>
<rect x="1188" y="371" width="3" height="6" fill="#e0533f"/>
<rect x="1196" y="375" width="1" height="12" fill="#66666a"/>
<rect x="1194" y="377" width="5" height="4" fill="#5e1111"/>
<rect x="1195" y="378" width="3" height="2" fill="#e0533f"/>
<rect x="1203" y="369" width="1" height="14" fill="#66666a"/>
<rect x="1201" y="373" width="5" height="8" fill="#1f5a3a"/>
<rect x="1202" y="374" width="3" height="6" fill="#6aa583"/>
<rect x="1211" y="367" width="1" height="9" fill="#66666a"/>
<rect x="1209" y="373" width="5" height="2" fill="#5e1111"/>
<rect x="1218" y="373" width="1" height="18" fill="#66666a"/>
<rect x="1216" y="374" width="5" height="8" fill="#5e1111"/>
<rect x="1217" y="375" width="3" height="6" fill="#e0533f"/>
<rect x="1225" y="381" width="1" height="19" fill="#66666a"/>
<rect x="1223" y="381" width="5" height="8" fill="#5e1111"/>
<rect x="1224" y="382" width="3" height="6" fill="#e0533f"/>
<rect x="1232" y="384" width="1" height="12" fill="#66666a"/>
<rect x="1230" y="388" width="5" height="8" fill="#5e1111"/>
<rect x="1231" y="389" width="3" height="6" fill="#e0533f"/>
<rect x="1240" y="393" width="1" height="9" fill="#66666a"/>
<rect x="1238" y="396" width="5" height="4" fill="#5e1111"/>
<rect x="1239" y="397" width="3" height="2" fill="#e0533f"/>
<rect x="1247" y="389" width="1" height="13" fill="#66666a"/>
<rect x="1245" y="390" width="5" height="10" fill="#1f5a3a"/>
<rect x="1246" y="391" width="3" height="8" fill="#6aa583"/>
<rect x="1254" y="390" width="1" height="5" fill="#66666a"/>
<rect x="1252" y="390" width="5" height="3" fill="#5e1111"/>
<rect x="1253" y="391" width="3" height="1" fill="#e0533f"/>
<rect x="1262" y="376" width="1" height="22" fill="#66666a"/>
<rect x="1260" y="378" width="5" height="15" fill="#1f5a3a"/>
<rect x="1261" y="379" width="3" height="13" fill="#6aa583"/>
<rect x="1269" y="373" width="1" height="15" fill="#66666a"/>
<rect x="1267" y="378" width="5" height="4" fill="#5e1111"/>
<rect x="1268" y="379" width="3" height="2" fill="#e0533f"/>
<rect x="1276" y="358" width="1" height="25" fill="#66666a"/>
<rect x="1274" y="358" width="5" height="24" fill="#1f5a3a"/>
<rect x="1275" y="359" width="3" height="22" fill="#6aa583"/>
<rect x="1283" y="324" width="1" height="38" fill="#66666a"/>
<rect x="1281" y="344" width="5" height="15" fill="#1f5a3a"/>
<rect x="1282" y="345" width="3" height="13" fill="#6aa583"/>
<rect x="1291" y="318" width="1" height="27" fill="#66666a"/>
<rect x="1289" y="336" width="5" height="9" fill="#1f5a3a"/>
<rect x="1290" y="337" width="3" height="7" fill="#6aa583"/>
<rect x="1298" y="331" width="1" height="9" fill="#66666a"/>
<rect x="1296" y="334" width="5" height="3" fill="#1f5a3a"/>
<rect x="1297" y="335" width="3" height="1" fill="#6aa583"/>
<rect x="1305" y="330" width="1" height="16" fill="#66666a"/>
<rect x="1303" y="334" width="5" height="1" fill="#1f5a3a"/>
<rect x="1313" y="324" width="1" height="16" fill="#66666a"/>
<rect x="1311" y="327" width="5" height="8" fill="#1f5a3a"/>
<rect x="1312" y="328" width="3" height="6" fill="#6aa583"/>
<rect x="1320" y="307" width="1" height="71" fill="#66666a"/>
<rect x="1318" y="327" width="5" height="18" fill="#5e1111"/>
<rect x="1319" y="328" width="3" height="16" fill="#e0533f"/>
<rect x="1327" y="324" width="1" height="32" fill="#66666a"/>
<rect x="1325" y="333" width="5" height="12" fill="#1f5a3a"/>
<rect x="1326" y="334" width="3" height="10" fill="#6aa583"/>
<rect x="1334" y="292" width="1" height="42" fill="#66666a"/>
<rect x="1332" y="304" width="5" height="30" fill="#1f5a3a"/>
<rect x="1333" y="305" width="3" height="28" fill="#6aa583"/>
<rect x="1342" y="285" width="1" height="24" fill="#66666a"/>
<rect x="1340" y="302" width="5" height="3" fill="#1f5a3a"/>
<rect x="1341" y="303" width="3" height="1" fill="#6aa583"/>
<rect x="1349" y="293" width="1" height="12" fill="#66666a"/>
<rect x="1347" y="302" width="5" height="2" fill="#5e1111"/>
<rect x="1356" y="294" width="1" height="18" fill="#66666a"/>
<rect x="1354" y="303" width="5" height="1" fill="#5e1111"/>
<rect x="1363" y="290" width="1" height="30" fill="#66666a"/>
<rect x="1361" y="294" width="5" height="10" fill="#1f5a3a"/>
<rect x="1362" y="295" width="3" height="8" fill="#6aa583"/>
<rect x="1371" y="281" width="1" height="28" fill="#66666a"/>
<rect x="1369" y="289" width="5" height="6" fill="#1f5a3a"/>
<rect x="1370" y="290" width="3" height="4" fill="#6aa583"/>
<rect x="1378" y="255" width="1" height="39" fill="#66666a"/>
<rect x="1376" y="262" width="5" height="28" fill="#1f5a3a"/>
<rect x="1377" y="263" width="3" height="26" fill="#6aa583"/>
<rect x="1385" y="231" width="1" height="41" fill="#66666a"/>
<rect x="1383" y="234" width="5" height="29" fill="#1f5a3a"/>
<rect x="1384" y="235" width="3" height="27" fill="#6aa583"/>
<rect x="1393" y="208" width="1" height="52" fill="#66666a"/>
<rect x="1391" y="219" width="5" height="16" fill="#1f5a3a"/>
<rect x="1392" y="220" width="3" height="14" fill="#6aa583"/>
<rect x="1400" y="189" width="1" height="45" fill="#66666a"/>
<rect x="1398" y="219" width="5" height="5" fill="#5e1111"/>
<rect x="1399" y="220" width="3" height="3" fill="#e0533f"/>
<rect x="1407" y="175" width="1" height="55" fill="#66666a"/>
<rect x="1405" y="180" width="5" height="44" fill="#1f5a3a"/>
<rect x="1406" y="181" width="3" height="42" fill="#6aa583"/>
<rect x="1414" y="162" width="1" height="36" fill="#66666a"/>
<rect x="1412" y="180" width="5" height="14" fill="#5e1111"/>
<rect x="1413" y="181" width="3" height="12" fill="#e0533f"/>
<rect x="1422" y="187" width="1" height="72" fill="#66666a"/>
<rect x="1420" y="193" width="5" height="57" fill="#5e1111"/>
<rect x="1421" y="194" width="3" height="55" fill="#e0533f"/>
<rect x="1429" y="198" width="1" height="67" fill="#66666a"/>
<rect x="1427" y="202" width="5" height="48" fill="#1f5a3a"/>
<rect x="1428" y="203" width="3" height="46" fill="#6aa583"/>
<rect x="1436" y="193" width="1" height="24" fill="#66666a"/>
<rect x="1434" y="202" width="5" height="5" fill="#5e1111"/>
<rect x="1435" y="203" width="3" height="3" fill="#e0533f"/>
</g>
<path d="M4.0 720.9 L175.0 721.6 L185.0 720.9 L287.5 720.9 L325.0 720.1 L362.5 719.1 L381.0 719.6 L387.5 719.6 L402.5 718.6 L410.0 717.9 L437.5 717.4 L462.5 716.9 L468.8 716.4 L480.0 713.9 L497.5 712.4 L510.0 711.4 L520.0 710.1 L537.5 710.4 L562.5 709.9 L587.5 711.4 L612.5 711.9 L627.5 712.4 L650.0 712.9 L662.5 712.9 L675.0 712.1 L695.0 711.6 L725.0 710.1 L756.0 709.6 L760.0 709.6 L773.8 707.1 L781.2 706.4 L788.8 705.1 L796.2 704.4 L810.0 701.1 L825.0 700.1 L832.5 700.1 L847.5 701.6 L860.0 701.4 L867.5 698.6 L882.5 698.6 L897.5 699.1 L910.0 698.6 L935.0 697.9 L947.5 698.4 L962.5 700.4 L970.0 700.9 L983.8 700.6 L997.5 702.9 L1012.5 703.1 L1027.5 704.1 L1045.0 705.1 L1062.5 705.9 L1080.0 706.4 L1100.0 707.6 L1115.0 708.4 L1131.0 708.6 L1140.0 709.1 L1152.5 709.9 L1175.0 708.9 L1200.0 708.9 L1225.0 708.6 L1245.0 708.9 L1255.0 709.9 L1272.5 708.6 L1285.0 705.9 L1292.5 705.1 L1300.0 705.9 L1312.5 705.9 L1320.0 702.1 L1335.0 699.1 L1342.5 698.9 L1355.0 700.4 L1370.0 699.1 L1385.0 696.4 L1400.0 692.9 L1407.5 690.9 L1413.8 690.4 L1421.2 687.4 L1428.8 684.4 L1435.8 685.4" fill="none" stroke="#c0302b" stroke-width="1.0" stroke-linejoin="round" stroke-linecap="round" />
<path d="M4.0 780.8 L13.8 779.2 L21.0 781.0 L26.0 787.0 L30.0 791.2 L38.0 796.2 L45.0 791.8 L52.5 788.0 L60.0 778.8 L67.5 775.5 L74.5 774.0 L82.0 777.0 L89.5 766.8 L97.0 757.5 L103.8 754.5 L110.8 763.8 L118.0 766.8 L125.0 767.0 L132.5 767.5 L140.0 766.8 L147.5 771.0 L154.5 771.2 L162.0 760.5 L169.5 752.0 L177.0 743.0 L184.2 726.2 L191.2 733.8 L198.8 741.2 L206.2 751.8 L213.0 755.0 L220.0 756.2 L227.5 757.0 L234.5 760.0 L241.8 765.0 L249.2 766.5 L256.8 767.5 L263.8 771.2 L271.2 770.0 L278.2 769.0 L285.8 770.5 L293.2 759.5 L300.0 757.5 L307.5 760.0 L314.5 752.5 L321.8 737.5 L329.5 730.0 L336.5 738.8 L343.8 739.5 L350.8 747.5 L358.0 748.5 L365.5 752.0 L372.5 755.0 L381.2 757.5 L388.0 758.0 L395.0 755.5 L402.5 751.2 L410.0 745.5 L417.0 750.0 L424.0 754.2 L432.0 752.0 L439.0 754.2 L445.8 756.5 L453.2 756.0 L460.8 756.8 L468.0 754.2 L475.0 745.5 L482.0 742.2 L489.5 746.2 L497.0 752.5 L503.8 754.0 L511.8 749.2 L518.8 754.0 L525.8 759.0 L533.0 760.2 L540.5 759.2 L547.5 762.0 L555.0 767.2 L562.5 765.0 L570.0 763.8 L577.0 764.2 L584.2 763.2 L591.8 765.0 L598.8 771.2 L605.8 768.8 L613.8 758.8 L620.8 758.0 L628.0 758.5 L635.0 750.8 L642.5 749.5 L650.0 757.0 L657.0 761.0 L664.5 753.8 L672.0 746.2 L679.0 735.0 L686.2 741.2 L693.8 747.5 L700.8 754.5 L708.0 758.8 L715.0 760.5 L722.5 755.2 L730.0 755.2 L737.5 758.0 L744.5 761.5 L751.2 762.0 L759.5 760.5 L766.2 751.2 L774.2 737.5 L781.2 734.2 L788.8 735.5 L795.8 738.5 L803.0 743.0 L810.0 751.8 L817.5 756.2 L825.0 760.8 L832.0 760.5 L839.2 762.5 L847.0 763.8 L855.0 761.8 L861.2 761.2 L868.2 768.5 L875.8 765.8 L883.0 768.8 L890.0 774.2 L897.5 780.0 L904.5 779.2 L912.0 774.5 L919.5 775.2 L927.0 773.2 L934.2 785.5 L941.2 781.8 L948.2 776.2 L955.8 780.8 L963.0 775.8 L970.0 768.0 L977.5 775.5 L985.0 784.2 L992.0 782.0 L999.2 782.5 L1006.8 795.0 L1014.2 797.0 L1021.2 786.2 L1028.8 784.0 L1036.2 776.2 L1043.2 771.2 L1050.8 764.2 L1058.0 757.5 L1065.0 751.5 L1072.0 760.0 L1080.0 765.2 L1086.8 758.2 L1093.8 761.8 L1101.2 766.2 L1108.8 766.8 L1116.2 766.2 L1123.8 760.0 L1130.0 754.2 L1137.5 750.8 L1145.0 748.5 L1152.0 751.8 L1159.5 752.0 L1166.5 750.0 L1173.8 748.2 L1181.2 752.8 L1188.8 758.8 L1195.8 763.2 L1203.2 760.5 L1210.8 760.0 L1218.0 766.2 L1225.0 772.2 L1232.5 775.0 L1240.0 779.2 L1247.0 777.5 L1254.2 777.0 L1261.2 771.5 L1268.8 768.0 L1275.8 752.5 L1283.0 736.5 L1290.5 737.2 L1297.5 745.0 L1305.0 750.0 L1312.5 751.2 L1320.0 758.8 L1327.0 758.2 L1334.2 751.2 L1341.8 750.8 L1348.8 753.8 L1356.2 756.2 L1363.2 757.0 L1370.5 755.8 L1377.5 751.2 L1385.0 747.5 L1392.5 747.0 L1400.0 746.8 L1406.8 745.8 L1414.2 748.8 L1421.8 758.8 L1428.8 758.8 L1435.8 758.0" fill="none" stroke="#2962ff" stroke-width="1.15" stroke-linejoin="round" stroke-linecap="round" />
<g shape-rendering="crispEdges" fill="#484848"><rect x="1461" y="1" width="1" height="680"/><rect x="1461" y="682" width="1" height="42"/><rect x="1461" y="726" width="1" height="104"/><rect x="4" y="802" width="1517" height="1"/></g>
</svg>
<div class="t" style="left:1469.40px;top:92.94px;font-size:12px;color:#505050;transform:scaleX(0.9540);transform-origin:0 0;">240.00</div>
<div class="t" style="left:1469.40px;top:135.94px;font-size:12px;color:#505050;transform:scaleX(0.9540);transform-origin:0 0;">220.00</div>
<div class="t" style="left:1469.40px;top:178.94px;font-size:12px;color:#505050;transform:scaleX(0.9540);transform-origin:0 0;">200.00</div>
<div class="t" style="left:1469.40px;top:221.94px;font-size:12px;color:#505050;transform:scaleX(0.9540);transform-origin:0 0;">180.00</div>
<div class="t" style="left:1469.40px;top:264.94px;font-size:12px;color:#505050;transform:scaleX(0.9540);transform-origin:0 0;">160.00</div>
<div class="t" style="left:1469.40px;top:307.94px;font-size:12px;color:#505050;transform:scaleX(0.9540);transform-origin:0 0;">140.00</div>
<div class="t" style="left:1469.40px;top:350.94px;font-size:12px;color:#505050;transform:scaleX(0.9540);transform-origin:0 0;">120.00</div>
<div class="t" style="left:1469.40px;top:393.94px;font-size:12px;color:#505050;transform:scaleX(0.9540);transform-origin:0 0;">100.00</div>
<div class="t" style="left:1469.40px;top:436.94px;font-size:12px;color:#505050;transform:scaleX(0.9500);transform-origin:0 0;">80.00</div>
<div class="t" style="left:1469.40px;top:479.94px;font-size:12px;color:#505050;transform:scaleX(0.9500);transform-origin:0 0;">60.00</div>
<div class="t" style="left:1469.40px;top:565.94px;font-size:12px;color:#505050;transform:scaleX(0.9500);transform-origin:0 0;">20.00</div>
<div class="t" style="left:1469.40px;top:608.94px;font-size:12px;color:#505050;transform:scaleX(0.9412);transform-origin:0 0;">0.00</div>
<div class="t" style="left:1469.40px;top:651.94px;font-size:12px;color:#505050;transform:scaleX(0.9578);transform-origin:0 0;">−20.00</div>
<div style="position:absolute;left:1462px;top:700px;width:59px;height:24px;overflow:hidden">
</div>
<div class="t" style="left:1469.40px;top:733.04px;font-size:12px;color:#505050;transform:scaleX(0.9540);transform-origin:0 0;">250.00</div>
<div class="t" style="left:1469.40px;top:764.64px;font-size:12px;color:#505050;transform:scaleX(0.9412);transform-origin:0 0;">0.00</div>
<div style="position:absolute;left:0;top:0;width:1524px;height:724px;overflow:hidden">
<div class="t" style="left:1469.40px;top:716.84px;font-size:12px;color:#505050;transform:scaleX(0.9412);transform-origin:0 0;">0.00</div>
</div>
<div class="lab" style="top:45.0px"></div>
<div class="t" style="left:1469.00px;top:47.64px;font-size:12px;color:#fff;font-weight:bold;transform:scaleX(0.9758);transform-origin:0 0;">260.80</div>
<div class="lab" style="top:154.0px"></div>
<div class="t" style="left:1469.00px;top:156.64px;font-size:12px;color:#fff;font-weight:bold;transform:scaleX(0.9758);transform-origin:0 0;">210.25</div>
<div class="lab" style="top:336.0px"></div>
<div class="t" style="left:1469.00px;top:338.64px;font-size:12px;color:#fff;font-weight:bold;transform:scaleX(0.9758);transform-origin:0 0;">125.80</div>
<div class="lab" style="top:522.0px"></div>
<div class="t" style="left:1469.00px;top:524.64px;font-size:12px;color:#fff;font-weight:bold;transform:scaleX(0.9667);transform-origin:0 0;">39.01</div>
<div class="lab" style="top:550.0px"></div>
<div class="t" style="left:1469.00px;top:552.64px;font-size:12px;color:#fff;font-weight:bold;transform:scaleX(0.9667);transform-origin:0 0;">25.90</div>
<div class="lab" style="top:582.0px"></div>
<div class="t" style="left:1469.00px;top:584.64px;font-size:12px;color:#fff;font-weight:bold;transform:scaleX(0.9667);transform-origin:0 0;">10.98</div>
<div class="t" style="left:83.60px;top:809.64px;font-size:12px;color:#505050;transform:scaleX(0.8822);transform-origin:0 0;">18</div>
<div class="t" style="left:174.85px;top:809.64px;font-size:12px;color:#505050;transform:scaleX(0.9472);transform-origin:0 0;">Oct</div>
<div class="t" style="left:287.65px;top:809.64px;font-size:12px;color:#505050;transform:scaleX(0.8598);transform-origin:0 0;">16</div>
<div class="t" style="left:400.25px;top:809.64px;font-size:12px;color:#505050;transform:scaleX(0.9150);transform-origin:0 0;">Nov</div>
<div class="t" style="left:490.75px;top:809.64px;font-size:12px;color:#505050;transform:scaleX(0.8598);transform-origin:0 0;">13</div>
<div class="t" style="left:618.25px;top:809.64px;font-size:12px;color:#505050;transform:scaleX(0.8680);transform-origin:0 0;">Dec</div>
<div class="t" style="left:746.10px;top:809.64px;font-size:12px;color:#505050;transform:scaleX(0.8822);transform-origin:0 0;">18</div>
<div class="t" style="left:840.75px;top:809.64px;font-size:12px;color:#333;font-weight:bold;transform:scaleX(0.9930);transform-origin:0 0;">2024</div>
<div class="t" style="left:950.25px;top:809.64px;font-size:12px;color:#505050;transform:scaleX(0.8598);transform-origin:0 0;">15</div>
<div class="t" style="left:1070.50px;top:809.64px;font-size:12px;color:#505050;transform:scaleX(0.8701);transform-origin:0 0;">Feb</div>
<div class="t" style="left:1153.75px;top:809.64px;font-size:12px;color:#505050;transform:scaleX(0.8598);transform-origin:0 0;">12</div>
<div class="t" style="left:1280.00px;top:809.64px;font-size:12px;color:#505050;transform:scaleX(0.9184);transform-origin:0 0;">Mar</div>
<div class="t" style="left:1408.60px;top:809.64px;font-size:12px;color:#505050;transform:scaleX(0.8822);transform-origin:0 0;">18</div>

<svg width="20" height="20" style="left:12px;top:7px" viewBox="0 0 20 20"><defs><linearGradient id="sg" x1="0" y1="1" x2="1" y2="0"><stop offset="0" stop-color="#9945ff"/><stop offset="0.5" stop-color="#5a8fd8"/><stop offset="1" stop-color="#19fb9b"/></linearGradient></defs><circle cx="10" cy="10" r="9" fill="#131313"/><path d="M6.2 5.6h8.6l-1.6 1.7H4.6zM4.6 9.15h8.6l1.6 1.7H6.2zM6.2 12.7h8.6l-1.6 1.7H4.6z" fill="url(#sg)"/></svg>
<div style="position:absolute;left:305px;top:9px;width:16px;height:16px;border-radius:8px;background:#d9f0eb;"></div>
<div style="position:absolute;left:309px;top:13px;width:8px;height:8px;border-radius:4px;background:#089981;"></div>
<div style="position:absolute;left:8px;top:33px;width:152px;height:24px;background:rgba(255,255,255,0.5);"></div>
<div style="position:absolute;left:12px;top:33px;width:53px;height:22px;border:1px solid #f23645;border-radius:4px;background:#fff;"></div>
<div style="position:absolute;left:104px;top:33px;width:53px;height:22px;border:1px solid #2962ff;border-radius:4px;background:#fff;"></div>
<div style="position:absolute;left:13px;top:87px;width:27px;height:19px;border:1px solid #d9dce3;border-radius:3px;background:#fff;"></div>
<svg width="10" height="6" style="left:22px;top:94px" viewBox="0 0 10 6"><path d="M1.5 5L5 1.5L8.5 5" fill="none" stroke="#222" stroke-width="1.3"/></svg>

<div class="t" style="left:35.40px;top:10.75px;font-size:14px;color:#404040;transform:scaleX(1.0407);transform-origin:0 0;">Solana</div>
<div class="t" style="left:88.20px;top:10.75px;font-size:14px;color:#404040;transform:scaleX(1.2500);transform-origin:0 0;">/</div>
<div class="t" style="left:99.80px;top:10.75px;font-size:14px;color:#404040;transform:scaleX(1.0202);transform-origin:0 0;">U.S.</div>
<div class="t" style="left:135.20px;top:10.75px;font-size:14px;color:#404040;transform:scaleX(1.0885);transform-origin:0 0;">Dollar</div>
<div class="t" style="left:190.10px;top:10.75px;font-size:14px;color:#404040;transform:scaleX(0.8448);transform-origin:0 0;">1D</div>
<div class="t" style="left:219.40px;top:10.75px;font-size:14px;color:#404040;transform:scaleX(0.9492);transform-origin:0 0;">COINBASE</div>
<div style="position:absolute;left:181.8px;top:17.2px;width:2.2px;height:2.2px;border-radius:1.1px;background:#404040"></div><div style="position:absolute;left:211.3px;top:17.2px;width:2.2px;height:2.2px;border-radius:1.1px;background:#404040"></div>
<div class="t" style="left:338.30px;top:11.94px;font-size:12px;color:#555;transform:scaleX(0.8805);transform-origin:0 0;">O</div>
<div class="t" style="left:348.20px;top:11.94px;font-size:12px;color:#6b2a2a;transform:scaleX(1.0140);transform-origin:0 0;">191.81</div>
<div class="t" style="left:393.00px;top:11.94px;font-size:12px;color:#555;transform:scaleX(0.8403);transform-origin:0 0;">H</div>
<div class="t" style="left:402.50px;top:11.94px;font-size:12px;color:#6b2a2a;transform:scaleX(1.0221);transform-origin:0 0;">195.79</div>
<div class="t" style="left:447.80px;top:11.94px;font-size:12px;color:#555;transform:scaleX(0.8000);transform-origin:0 0;">L</div>
<div class="t" style="left:455.30px;top:11.94px;font-size:12px;color:#6b2a2a;transform:scaleX(1.0194);transform-origin:0 0;">184.79</div>
<div class="t" style="left:499.90px;top:11.94px;font-size:12px;color:#555;transform:scaleX(0.8518);transform-origin:0 0;">C</div>
<div class="t" style="left:509.20px;top:11.94px;font-size:12px;color:#6b2a2a;transform:scaleX(1.0140);transform-origin:0 0;">189.65</div>
<div class="t" style="left:553.90px;top:11.94px;font-size:12px;color:#6b2a2a;transform:scaleX(0.9646);transform-origin:0 0;">−2.26</div>
<div class="t" style="left:590.90px;top:11.94px;font-size:12px;color:#6b2a2a;transform:scaleX(0.9612);transform-origin:0 0;">(−1.18%)</div>
<div class="t" style="left:20.75px;top:39.74px;font-size:12px;color:#f23645;transform:scaleX(0.9935);transform-origin:0 0;">189.61</div>
<div class="t" style="left:75.10px;top:39.61px;font-size:10.5px;color:#222;transform:scaleX(1.0128);transform-origin:0 0;">0.05</div>
<div class="t" style="left:113.50px;top:39.74px;font-size:12px;color:#2962ff;">189.66</div>
<div class="t" style="left:13.00px;top:67.54px;font-size:12px;color:#555;transform:scaleX(0.9500);transform-origin:0 0;">MA</div>
<div class="t" style="left:33.70px;top:67.54px;font-size:12px;color:#555;transform:scaleX(1.0263);transform-origin:0 0;">Ribbon</div>
<div class="t" style="left:77.10px;top:67.54px;font-size:12px;color:#555;transform:scaleX(0.8846);transform-origin:0 0;">SMA</div>
<div class="t" style="left:103.70px;top:67.54px;font-size:12px;color:#555;transform:scaleX(1.0107);transform-origin:0 0;">close</div>
<div class="t" style="left:137.00px;top:67.54px;font-size:12px;color:#555;transform:scaleX(0.9495);transform-origin:0 0;">20</div>
<div class="t" style="left:154.20px;top:67.54px;font-size:12px;color:#555;transform:scaleX(0.8846);transform-origin:0 0;">SMA</div>
<div class="t" style="left:181.10px;top:67.54px;font-size:12px;color:#555;transform:scaleX(1.0179);transform-origin:0 0;">close</div>
<div class="t" style="left:214.40px;top:67.54px;font-size:12px;color:#555;transform:scaleX(0.9944);transform-origin:0 0;">50</div>
<div class="t" style="left:231.60px;top:67.54px;font-size:12px;color:#555;transform:scaleX(0.8846);transform-origin:0 0;">SMA</div>
<div class="t" style="left:258.20px;top:67.54px;font-size:12px;color:#555;transform:scaleX(1.0429);transform-origin:0 0;">close</div>
<div class="t" style="left:293.60px;top:67.54px;font-size:12px;color:#555;transform:scaleX(0.9300);transform-origin:0 0;">100</div>
<div class="t" style="left:316.10px;top:67.54px;font-size:12px;color:#555;transform:scaleX(0.8731);transform-origin:0 0;">SMA</div>
<div class="t" style="left:342.30px;top:67.54px;font-size:12px;color:#555;transform:scaleX(1.0464);transform-origin:0 0;">close</div>
<div class="t" style="left:376.30px;top:67.54px;font-size:12px;color:#555;transform:scaleX(0.9600);transform-origin:0 0;">200</div>
<div class="t" style="left:405.60px;top:67.54px;font-size:12px;color:#f23645;transform:scaleX(0.9785);transform-origin:0 0;">159.21</div>
<div class="t" style="left:450.40px;top:67.54px;font-size:12px;color:#2962ff;transform:scaleX(1.0058);transform-origin:0 0;">128.18</div>
<div class="t" style="left:494.70px;top:67.54px;font-size:12px;color:#333;transform:scaleX(0.8000);transform-origin:0 0;">∅</div>
<div class="t" style="left:508.90px;top:67.54px;font-size:12px;color:#111;">74.35</div>
<div class="t" style="left:13.10px;top:692.64px;font-size:12px;color:#555;transform:scaleX(0.9211);transform-origin:0 0;">ATR</div>
<div class="t" style="left:40.00px;top:692.64px;font-size:12px;color:#555;transform:scaleX(0.8822);transform-origin:0 0;">14</div>
<div class="t" style="left:56.70px;top:692.64px;font-size:12px;color:#555;transform:scaleX(0.8731);transform-origin:0 0;">RMA</div>
<div class="t" style="left:89.20px;top:692.64px;font-size:12px;color:#c0302b;transform:scaleX(1.0300);transform-origin:0 0;">16.23</div>
<div class="t" style="left:13.10px;top:736.14px;font-size:12px;color:#555;transform:scaleX(0.8894);transform-origin:0 0;">CCI</div>
<div class="t" style="left:37.00px;top:736.14px;font-size:12px;color:#555;transform:scaleX(0.9421);transform-origin:0 0;">20</div>
<div class="t" style="left:54.90px;top:736.14px;font-size:12px;color:#555;transform:scaleX(0.9955);transform-origin:0 0;">hlc3</div>
<div class="t" style="left:82.00px;top:736.14px;font-size:12px;color:#555;transform:scaleX(0.8577);transform-origin:0 0;">SMA</div>
<div class="t" style="left:108.90px;top:736.14px;font-size:12px;color:#555;transform:scaleX(0.8224);transform-origin:0 0;">5</div>
<div class="t" style="left:123.10px;top:736.14px;font-size:12px;color:#2962ff;transform:scaleX(1.0667);transform-origin:0 0;">97.60</div>
<div style="position:absolute;left:1465px;top:5px;width:50px;height:24px;border:1px solid #e0e3eb;border-radius:4px;background:#fff;"></div>
<svg width="10" height="6" style="left:1504.4px;top:15.5px" viewBox="0 0 10 6"><path d="M2.5 1.4L5 3.8L7.5 1.4" fill="none" stroke="#222" stroke-width="1.3"/></svg>

<div class="t" style="left:1469.30px;top:11.64px;font-size:12px;color:#131722;transform:scaleX(0.8000);transform-origin:0 0;">USD</div>
<svg width="40" height="24" style="left:11px;top:768px" viewBox="0 0 40 24"><defs><filter id="gl" x="-30%" y="-30%" width="160%" height="160%"><feGaussianBlur stdDeviation="1.2"/></filter></defs>
<g filter="url(#gl)" fill="#fff" stroke="#fff" stroke-width="4"><path d="M5 5h12v15h-6.2v-8.8H5z"/><circle cx="21.7" cy="8" r="2.9"/><path d="M27.5 5h7.3l-6.2 15h-7.3z"/></g>
<g fill="#131722"><path d="M5 5h12v15h-6.2v-8.8H5z"/><circle cx="21.7" cy="8" r="2.9"/><path d="M27.5 5h7.3l-6.2 15h-7.3z"/></g></svg>

<svg width="1524" height="833" viewBox="0 0 1524 833" style="pointer-events:none"><defs>
<filter id="wsh" x="-5%" y="-20%" width="110%" height="140%"><feGaussianBlur in="SourceAlpha" stdDeviation="1.1" result="b"/><feOffset in="b" dx="2.2" dy="2.2" result="o"/><feComposite in="o" in2="SourceAlpha" operator="out" result="sh"/><feFlood flood-color="#2a2d38" flood-opacity="0.55"/><feComposite in2="sh" operator="in" result="shc"/><feComponentTransfer in="SourceGraphic" result="sg"><feFuncA type="linear" slope="0.8"/></feComponentTransfer><feMerge><feMergeNode in="shc"/><feMergeNode in="sg"/></feMerge></filter>
<filter id="bsh" x="-5%" y="-20%" width="110%" height="150%"><feGaussianBlur in="SourceAlpha" stdDeviation="0.7" result="b"/><feOffset in="b" dx="1.6" dy="1.8" result="o"/><feFlood flood-color="#6f8fb5" flood-opacity="0.8"/><feComposite in2="o" operator="in" result="shc"/><feMerge><feMergeNode in="shc"/><feMergeNode in="SourceGraphic"/></feMerge></filter>
</defs>
<g filter="url(#wsh)" fill="none" stroke="#fff" stroke-width="8" stroke-linejoin="miter" stroke-linecap="butt"><g transform="translate(1291 738.5) scale(1 0.955) skewX(-15)"><path d="M0 15H21"/><path d="M11 1V49Q11 56 3 54"/><path d="M0 40L21 29"/><path d="M25 9H58"/><path d="M41 9L27 33"/><path d="M33 27H55V55H33Z"/><path d="M33 41H55"/></g><g transform="translate(1352 738.5) scale(1 0.955) skewX(-15)"><path d="M15 3V26"/><path d="M10 11H52"/><path d="M12 27H51V49Q51 57 40 55"/><path d="M1 42H45"/></g><g transform="translate(1412 738.5) scale(1 0.955) skewX(-15)"><path d="M4 5H22V38H4Z"/><path d="M13 13V30"/><path d="M10 40L2 55"/><path d="M16 40L25 53"/><path d="M28 17H59"/><path d="M47 1V49Q47 57 38 54"/><path d="M45 21L28 47"/></g><g transform="translate(1472 738.5) scale(1 0.955) skewX(-15)"><path d="M16 1L4 19L17 19L2 40L21 35"/><path d="M2 55L21 48"/><path d="M27 5H55L31 30"/><path d="M37 14L58 31"/><path d="M29 39H57"/><path d="M43 39V55"/><path d="M25 55H59"/></g></g>
<g filter="url(#bsh)" opacity="0.88" fill="#8ac6fb" font-family="Liberation Sans, sans-serif" font-weight="bold" font-style="italic" font-size="31">

<text transform="translate(1289.79 826.4) scale(1.020 1)" stroke="#8ac6fb" stroke-width="1.5">z</text>
<text transform="translate(1316.20 826.4) scale(1.071 1)" stroke="#8ac6fb" stroke-width="1.5">z</text>
<text transform="translate(1344.00 826.4) scale(1.185 1)" stroke="#8ac6fb" stroke-width="1.5">r</text>
<text transform="translate(1369.70 826.4) scale(1.119 1)" stroke="#8ac6fb" stroke-width="1.5">t</text>
<text transform="translate(1388.00 826.4) scale(1.072 1)" stroke="#8ac6fb" stroke-width="1.5">0</text>
<text transform="translate(1423.30 826.4) scale(0.850 1)" stroke="#8ac6fb" stroke-width="1.5">1</text>
<text transform="translate(1446.50 826.4) scale(1.020 1)" stroke="#8ac6fb" stroke-width="1.5">.</text>
<text transform="translate(1466.50 826.4) scale(0.974 1)" stroke="#8ac6fb" stroke-width="1.5">c</text>
<text transform="translate(1493.00 826.4) scale(1.003 1)" stroke="#8ac6fb" stroke-width="1.5">n</text>
</g></svg>
<svg width="20" height="20" style="left:1481px;top:806px" viewBox="0 0 20 20"><path d="M6.9 4.6h6.2l3.2 5.5-3.2 5.5H6.9L3.7 10.1z" fill="none" stroke="#111" stroke-width="1.1"/><circle cx="10" cy="10.1" r="1.7" fill="none" stroke="#111" stroke-width="1.1"/></svg>
<div class="t" style="left:1280.00px;top:809.64px;font-size:12px;color:#505050;transform:scaleX(0.9184);transform-origin:0 0;opacity:0.75;">Mar</div>
<div class="t" style="left:1408.60px;top:809.64px;font-size:12px;color:#505050;transform:scaleX(0.8822);transform-origin:0 0;opacity:0.75;">18</div>
<div style="position:absolute;left:1521px;top:0;width:3px;height:833px;background:#e0e3eb"></div>
</body></html>
